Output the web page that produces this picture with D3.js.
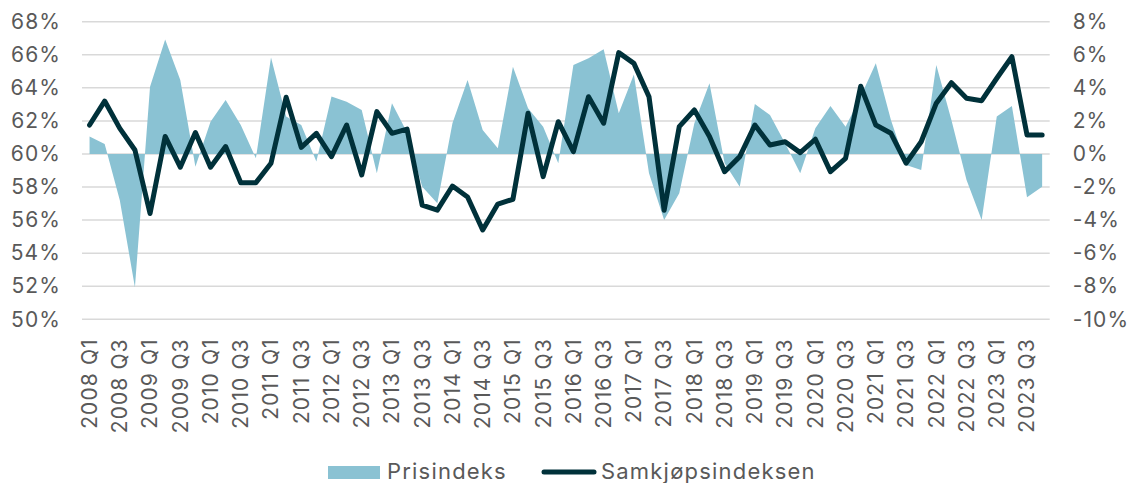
<!DOCTYPE html>
<html>
<head>
<meta charset="utf-8">
<script src="https://cdn.jsdelivr.net/npm/d3@7"></script>
<style>
  body { margin: 0; background: #fff; }
  svg text { font-family: Inter, "Noto Sans", sans-serif; fill: #595959; }
</style>
</head>
<body>
<div id="chart"></div>
<script>
const years = d3.range(2008, 2024);
const quarters = years.flatMap(y => ["Q1", "Q2", "Q3", "Q4"].map(q => y + " " + q));

// Samkjøpsindeksen, venstre akse (%)
const samkjop = [
  61.75, 63.2, 61.55, 60.24, 56.4, 61.06, 59.2, 61.3, 59.2, 60.45, 58.26, 58.26,
  59.44, 63.43, 60.4, 61.25, 59.84, 61.75, 58.73, 62.56, 61.25, 61.5, 56.9, 56.6,
  58.06, 57.4, 55.4, 56.97, 57.26, 62.46, 58.63, 61.95, 60.14, 63.46, 61.86, 66.13,
  65.48, 63.46, 56.6, 61.65, 62.66, 61.05, 58.93, 59.84, 61.75, 60.54, 60.74, 60.08,
  60.89, 58.93, 59.74, 64.1, 61.75, 61.25, 59.44, 60.74, 63.07, 64.31, 63.37, 63.22,
  64.58, 65.88, 61.15, 61.15
];

// Prisindeks, høyre akse (%)
const prisindeks = [
  1.05, 0.6, -2.8, -8.06, 4.07, 6.93, 4.48, -0.77, 1.95, 3.27, 1.75, -0.26,
  5.83, 2.26, 1.75, -0.46, 3.47, 3.16, 2.66, -1.17, 3.07, 1.3, -1.98, -2.98,
  1.86, 4.48, 1.45, 0.34, 5.28, 2.76, 1.65, -0.56, 5.38, 5.79, 6.33, 2.46,
  4.8, -1.17, -3.99, -2.38, 1.86, 4.28, -0.56, -1.98, 3.02, 2.36, 0.65, -1.17,
  1.55, 2.9, 1.65, 3.47, 5.48, 2.05, -0.67, -0.97, 5.38, 2.05, -1.57, -3.99,
  2.26, 2.9, -2.62, -1.98
];

const leftTicks = d3.range(50, 69, 2);
const rightTicks = d3.range(-10, 9, 2);

const W = 1129, H = 483;
const m = { top: 21.7, left: 82, right: 1129 - 1049.7, bottom: 483 - 319.3 };

const svg = d3.select("#chart").append("svg")
  .attr("width", W).attr("height", H);

const x = d3.scaleBand().domain(quarters).range([m.left, W - m.right]);
const yL = d3.scaleLinear().domain([50, 68]).range([H - m.bottom, m.top]);
const yR = d3.scaleLinear().domain([-10, 8]).range([H - m.bottom, m.top]);
const cx = d => x(d) + x.bandwidth() / 2;

// gridlines
svg.append("g")
  .selectAll("line")
  .data(leftTicks)
  .join("line")
  .attr("x1", m.left).attr("x2", W - m.right)
  .attr("y1", d => yL(d)).attr("y2", d => yL(d))
  .attr("stroke", "#d9d9d9")
  .attr("stroke-width", 1.5);

// area
const area = d3.area()
  .x((d, i) => cx(quarters[i]))
  .y0(yR(0))
  .y1(d => yR(d));

svg.append("path")
  .datum(prisindeks)
  .attr("fill", "#8ac2d3")
  .attr("d", area);

// line
const line = d3.line()
  .x((d, i) => cx(quarters[i]))
  .y(d => yL(d));

svg.append("path")
  .datum(samkjop)
  .attr("fill", "none")
  .attr("stroke", "#00313a")
  .attr("stroke-width", 5)
  .attr("stroke-linejoin", "round")
  .attr("stroke-linecap", "round")
  .attr("d", line);

// axes
const fmt = d => d + "%";

const leftAxis = svg.append("g")
  .attr("transform", `translate(${m.left - 21},0)`)
  .call(d3.axisLeft(yL).tickValues(leftTicks).tickFormat(fmt).tickSize(0).tickPadding(0));

const rightAxis = svg.append("g")
  .attr("transform", `translate(${W - m.right + 23},0)`)
  .call(d3.axisRight(yR).tickValues(rightTicks).tickFormat(fmt).tickSize(0).tickPadding(0));

const bottomAxis = svg.append("g")
  .attr("transform", `translate(0,${H - m.bottom + 19})`)
  .call(d3.axisBottom(x).tickValues(quarters.filter((d, i) => i % 2 === 0)).tickSize(0).tickPadding(0));

bottomAxis.selectAll("text")
  .attr("transform", "rotate(-90)")
  .attr("text-anchor", "end")
  .attr("x", 0)
  .attr("y", 0)
  .attr("dy", "0.35em");

[leftAxis, rightAxis, bottomAxis].forEach(g => {
  g.select(".domain").remove();
  g.selectAll("text").style("font-size", "21px").style("fill", "#595959")
    .style("letter-spacing", "1.1px")
    .style("font-family", "Inter, 'Noto Sans', sans-serif");
});

// legend
const legend = svg.append("g");
legend.append("rect")
  .attr("x", 328).attr("y", 466).attr("width", 52).attr("height", 13)
  .attr("fill", "#8ac2d3");
legend.append("text")
  .attr("x", 387).attr("y", 479)
  .style("font-size", "22px").style("letter-spacing", "1.2px")
  .text("Prisindeks");
legend.append("line")
  .attr("x1", 544).attr("x2", 594).attr("y1", 472).attr("y2", 472)
  .attr("stroke", "#00313a").attr("stroke-width", 5).attr("stroke-linecap", "round");
legend.append("text")
  .attr("x", 601).attr("y", 479)
  .style("font-size", "22px").style("letter-spacing", "1.2px")
  .text("Samkjøpsindeksen");
</script>
</body>
</html>
